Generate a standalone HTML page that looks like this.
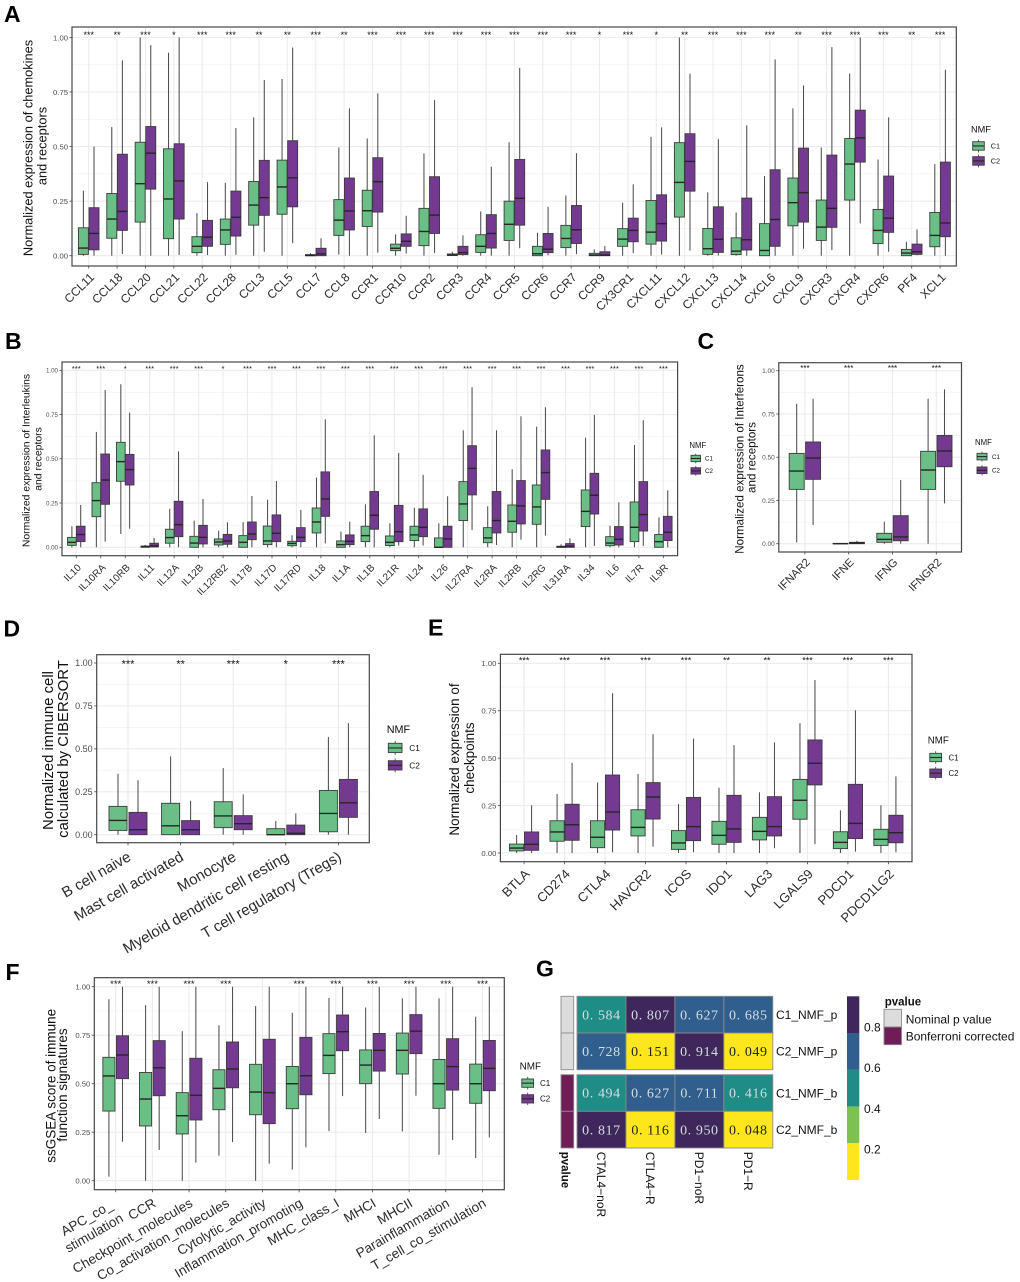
<!DOCTYPE html>
<html lang="en">
<head>
<meta charset="utf-8">
<title>NMF immune signature boxplots</title>
<style>
html,body{margin:0;padding:0;background:#fff;}
svg{display:block;font-family:"Liberation Sans","DejaVu Sans",sans-serif;filter:blur(.3px);}
.letter{font-size:23px;font-weight:bold;fill:#000;}
.ytitle{text-anchor:middle;fill:#111;}
</style>
</head>
<body>
<svg id="figure" xmlns="http://www.w3.org/2000/svg" width="1020" height="1282" viewBox="0 0 1020 1282">
<rect x="0" y="0" width="1020" height="1282" fill="#fff"/>
<text class="letter" x="4" y="22">A</text>
<text class="letter" x="5" y="349">B</text>
<text class="letter" x="697.5" y="349">C</text>
<text class="letter" x="3.5" y="636.5">D</text>
<text class="letter" x="428" y="635.7">E</text>
<text class="letter" x="5.5" y="980">F</text>
<text class="letter" x="536" y="976.7">G</text>

<g font-size="12.8">
<text class="ytitle" transform="translate(32.4 148) rotate(-90)">Normalized expression of chemokines</text>
<text class="ytitle" transform="translate(46.4 146) rotate(-90)">and receptors</text>
</g>
<g font-size="10.4">
<text class="ytitle" transform="translate(29.7 460.5) rotate(-90)">Normalized expression of Interleukins</text>
<text class="ytitle" transform="translate(41.3 459) rotate(-90)">and receptors</text>
</g>
<g font-size="11.6">
<text class="ytitle" transform="translate(743.7 459) rotate(-90)">Normalized expression of Interferons</text>
<text class="ytitle" transform="translate(755.5 457.5) rotate(-90)">and receptors</text>
</g>
<g font-size="14.9">
<text class="ytitle" transform="translate(52.8 750.5) rotate(-90)">Normalized immune cell</text>
<text class="ytitle" transform="translate(68 749) rotate(-90)">calculated by CIBERSORT</text>
</g>
<g font-size="13.5">
<text class="ytitle" transform="translate(459 759.5) rotate(-90)">Normalized expression of</text>
<text class="ytitle" transform="translate(474 758) rotate(-90)">checkpoints</text>
</g>
<g font-size="13.5">
<text class="ytitle" transform="translate(55.4 1085.8) rotate(-90)">ssGSEA score of immune</text>
<text class="ytitle" transform="translate(67 1085) rotate(-90)">function signatures</text>
</g>
</svg>

<script>
// ---------- series names ----------
const seriesNames = ['C1', 'C2'];
const yTickValues = [0, 0.25, 0.5, 0.75, 1];
const yTickLabels = ['0.00', '0.25', '0.50', '0.75', '1.00'];
const yMinorValues = [0.125, 0.375, 0.625, 0.875];

// ---------- Panel A (each row: low whisker, Q1, median, Q3, high whisker) ----------
const panelACategories = ['CCL11','CCL18','CCL20','CCL21','CCL22','CCL28','CCL3','CCL5','CCL7','CCL8','CCR1','CCR10','CCR2','CCR3','CCR4','CCR5','CCR6','CCR7','CCR9','CX3CR1','CXCL11','CXCL12','CXCL13','CXCL14','CXCL6','CXCL9','CXCR3','CXCR4','CXCR6','PF4','XCL1'];
const panelASignif = ['***','**','***','*','***','***','**','**','***','**','***','***','***','***','***','***','***','***','*','***','*','**','***','***','***','**','***','***','***','**','***'];
const panelAC1 = [
[0,.006,.035,.128,.298],[0,.08,.168,.285,.59],[0,.154,.33,.52,1],[0,.078,.26,.49,.93],[0,.014,.043,.087,.195],
[0,.052,.118,.168,.334],[0,.14,.232,.34,.634],[0,.19,.315,.438,.81],[0,0,.001,.005,.012],[.005,.093,.163,.257,.496],
[0,.134,.206,.30,.537],[0,.023,.034,.053,.098],[0,.046,.111,.217,.469],[0,.001,.003,.008,.018],[0,.015,.043,.096,.203],
[0,.07,.144,.25,.52],[0,0,.009,.043,.105],[0,.037,.079,.139,.276],[0,0,.003,.011,.029],[0,.043,.076,.124,.243],
[0,.053,.108,.253,.545],[0,.177,.336,.518,1],[0,.006,.032,.125,.29],[0,.005,.021,.082,.198],[0,0,.024,.147,.365],
[0,.137,.243,.356,.675],[0,.07,.131,.255,.496],[0,.255,.42,.537,.835],[0,.056,.116,.212,.441],[0,0,.012,.029,.064],[0,.041,.093,.198,.42]];
const panelAC2 = [
[0,.027,.102,.22,.50],[.008,.116,.203,.465,.895],[0,.305,.47,.592,.965],[.003,.168,.343,.513,1],[.003,.043,.085,.162,.337],
[.004,.09,.176,.296,.585],[.018,.185,.266,.437,.805],[.057,.224,.357,.527,.954],[0,0,.008,.034,.08],[0,.118,.205,.356,.675],
[.014,.2,.339,.449,.744],[.01,.043,.066,.10,.183],[.012,.102,.186,.362,.713],[0,.005,.014,.043,.093],[0,.035,.102,.188,.408],
[.034,.14,.263,.441,.861],[.002,.014,.03,.102,.224],[.007,.056,.119,.23,.47],[0,0,.003,.018,.044],[.012,.064,.116,.172,.327],
[.005,.067,.147,.279,.588],[.023,.296,.432,.559,.834],[.001,.015,.075,.224,.534],[0,.026,.073,.264,.597],[0,.043,.166,.394,.90],
[.032,.154,.289,.493,.78],[.026,.13,.217,.461,.956],[.148,.429,.54,.667,1],[.018,.107,.172,.365,.634],[.002,.006,.018,.053,.12],[0,.087,.15,.429,.852]];

// ---------- Panel B ----------
const panelBCategories = ['IL10','IL10RA','IL10RB','IL11','IL12A','IL12B','IL12RB2','IL17B','IL17D','IL17RD','IL18','IL1A','IL1B','IL21R','IL24','IL26','IL27RA','IL2RA','IL2RB','IL2RG','IL31RA','IL34','IL6','IL7R','IL9R'];
const panelBSignif = ['***','***','*','***','***','***','*','***','***','***','***','***','***','***','***','***','***','***','***','***','***','***','***','***','***'];
const panelBC1 = [
[0,.011,.028,.056,.119],[0,.173,.264,.365,.652],[.075,.373,.484,.593,.921],[0,0,.004,.007,.013],[0,.023,.055,.102,.217],
[0,0,.024,.062,.151],[0,.013,.03,.047,.094],[0,0,.028,.066,.143],[0,.015,.036,.12,.269],[0,.009,.022,.034,.068],
[0,.081,.143,.222,.394],[0,0,.015,.036,.089],[0,.032,.066,.119,.243],[0,.01,.028,.064,.136],[0,.038,.07,.119,.224],
[0,0,0,.053,.136],[0,.151,.245,.371,.661],[0,.026,.053,.111,.232],[0,.085,.147,.239,.441],[0,.13,.228,.352,.682],
[0,0,.002,.006,.017],[0,.117,.203,.324,.62],[0,.009,.024,.06,.122],[0,.032,.113,.256,.578],[0,0,.032,.072,.169]];
const panelBC2 = [
[0,.032,.072,.119,.239],[.032,.243,.38,.527,.889],[.105,.352,.439,.525,.761],[0,.002,.008,.023,.053],[0,.06,.128,.26,.542],
[0,.019,.056,.124,.273],[0,.017,.036,.073,.141],[0,.043,.075,.143,.29],[0,.032,.079,.183,.375],[0,.032,.056,.111,.211],
[.022,.175,.273,.426,.723],[0,.015,.034,.07,.145],[0,.102,.181,.315,.633],[.01,.032,.088,.237,.533],[.01,.06,.113,.217,.409],
[0,0,.047,.119,.288],[.098,.296,.446,.574,.904],[.013,.081,.151,.315,.661],[.043,.132,.234,.377,.74],[.066,.271,.422,.55,.791],
[0,0,.006,.021,.051],[.008,.188,.294,.418,.748],[0,.013,.045,.117,.254],[.008,.092,.185,.371,.718],[0,.038,.085,.175,.322]];

// ---------- Panel C ----------
const panelCCategories = ['IFNAR2','IFNE','IFNG','IFNGR2'];
const panelCSignif = ['***','***','***','***'];
const panelCC1 = [[.008,.314,.42,.522,.809],[0,0,0,.002,.003],[0,.008,.025,.06,.127],[0,.314,.426,.534,.838]];
const panelCC2 = [[.108,.372,.495,.588,.838],[0,0,.004,.008,.017],[0,.017,.039,.162,.368],[.233,.445,.536,.626,.892]];

// ---------- Panel D ----------
const panelDCategories = ['B cell naive','Mast cell activated','Monocyte','Myeloid dendritic cell resting','T cell regulatory (Tregs)'];
const panelDSignif = ['***','**','***','*','***'];
const panelDC1 = [[0,.025,.083,.165,.355],[0,0,.052,.183,.456],[0,.041,.109,.192,.388],[0,0,0,.035,.08],[0,.017,.124,.258,.569]];
const panelDC2 = [[0,0,.029,.13,.317],[0,0,.029,.082,.198],[0,.029,.064,.111,.235],[0,0,.008,.056,.124],[0,.101,.186,.322,.65]];

// ---------- Panel E ----------
const panelECategories = ['BTLA','CD274','CTLA4','HAVCR2','ICOS','IDO1','LAG3','LGALS9','PDCD1','PDCD1LG2'];
const panelESignif = ['***','***','***','***','***','**','**','***','***','***'];
const panelEC1 = [[0,.011,.026,.047,.095],[0,.062,.111,.17,.311],[0,.028,.083,.17,.371],[0,.09,.135,.228,.417],[0,.019,.053,.118,.258],[0,.046,.093,.167,.344],[0,.069,.114,.188,.32],[0,.178,.278,.388,.684],[0,.023,.056,.112,.225],[0,.04,.072,.125,.251]];
const panelEC2 = [[0,.014,.046,.111,.251],[0,.067,.149,.257,.475],[.004,.121,.216,.411,.842],[.033,.179,.295,.371,.626],[.004,.065,.139,.293,.603],[0,.056,.127,.304,.569],[.025,.09,.139,.297,.583],[.047,.359,.473,.596,.912],[.007,.076,.156,.362,.752],[.004,.054,.107,.199,.404]];

// ---------- Panel F ----------
const panelFCategories = ['APC_co_\nstimulation','CCR','Checkpoint_molecules','Co_activation_molecules','Cytolytic_activity','Inflammation_promoting','MHC_class_I','MHCI','MHCII','Parainflammation','T_cell_co_stimulation'];
const panelFSignif = ['***','***','***','***','','***','***','***','***','***','***'];
const panelFC1 = [[.021,.359,.54,.636,.935],[0,.282,.421,.558,.905],[0,.241,.335,.454,.771],[.129,.366,.476,.572,.801],[0,.34,.457,.60,.90],[.057,.371,.50,.589,.866],[.256,.552,.646,.758,.942],[.246,.50,.596,.674,.893],[.254,.55,.672,.761,.94],[.134,.373,.50,.625,.94],[.117,.399,.50,.601,.845]];
const panelFC2 = [[.201,.526,.648,.747,1],[.158,.438,.582,.722,1],[.093,.313,.44,.631,1],[.199,.479,.576,.715,1],[.088,.294,.454,.729,1],[.172,.443,.541,.739,1],[.436,.67,.768,.854,1],[.318,.565,.672,.759,1],[.438,.655,.771,.856,1],[.21,.467,.588,.732,1],[.223,.464,.579,.723,1]];

// ---------- Panel G heatmap ----------
const heatmapRowNames = ['C1_NMF_p','C2_NMF_p','C1_NMF_b','C2_NMF_b'];
const heatmapColNames = ['CTAL4\u2212noR','CTLA4\u2212R','PD1\u2212noR','PD1\u2212R'];
const heatmapRow1 = [0.584, 0.807, 0.627, 0.685];
const heatmapRow2 = [0.728, 0.151, 0.914, 0.049];
const heatmapRow3 = [0.494, 0.627, 0.711, 0.416];
const heatmapRow4 = [0.817, 0.116, 0.950, 0.048];
const colorbarTicks = [0.8, 0.6, 0.4, 0.2];
const pvalueLegendLabels = ['Nominal p value', 'Bonferroni corrected'];

// ---------- helpers ----------
const svg = document.getElementById('figure');
const NS = 'http://www.w3.org/2000/svg';
const GREEN = '#69bf86', PURPLE = '#743a92', EDGE = '#3c3c3c', WHISK = '#4e4e4e', MED = '#262626';
function el(tag, attrs, parent) {
  const n = document.createElementNS(NS, tag);
  for (const k in attrs) n.setAttribute(k, attrs[k]);
  (parent || svg).appendChild(n);
  return n;
}
function slug(s) { return s.toLowerCase().replace(/[^a-z0-9]+/g, '-').replace(/^-|-$/g, ''); }

function drawPanel(id, L, cats, signif, c1, c2) {
  const yScale = v => L.y0 + (L.y1 - L.y0) * v;
  const xScale = i => L.x0 + L.dx * i;
  const panel = el('g', {});
  
  

  // plot background
  const bg = el('rect', {x: L.l, y: L.t, width: L.r - L.l, height: L.b - L.t, fill: '#fff'}, panel);
  
  

  // grid
  yMinorValues.forEach(v => {
    const g = el('line', {x1: L.l, x2: L.r, y1: yScale(v), y2: yScale(v), stroke: '#f2f2f2', 'stroke-width': .7}, panel);
    
    
  });
  yTickValues.forEach(v => {
    const g = el('line', {x1: L.l, x2: L.r, y1: yScale(v), y2: yScale(v), stroke: '#ececec', 'stroke-width': 1.1}, panel);
    
    
  });
  cats.forEach((c, i) => {
    const g = el('line', {x1: xScale(i), x2: xScale(i), y1: L.t, y2: L.b, stroke: '#ececec', 'stroke-width': 1.1}, panel);
    
    
  });

  // boxes
  function drawBox(vals, cx, fill, label, parent) {
    const [lo, q1, med, q3, hi] = vals;
    const w = el('line', {x1: cx, x2: cx, y1: yScale(lo), y2: yScale(hi), stroke: WHISK, 'stroke-width': 1.05}, parent);
    
    
    const r = el('rect', {x: cx - L.bw / 2, y: yScale(q3), width: L.bw, height: Math.max(.4, yScale(q1) - yScale(q3)), fill: fill, stroke: EDGE, 'stroke-width': .9}, parent);
    
    
    const m = el('line', {x1: cx - L.bw / 2, x2: cx + L.bw / 2, y1: yScale(med), y2: yScale(med), stroke: MED, 'stroke-width': 1.4}, parent);
    
    
  }
  cats.forEach((c, i) => {
    const g = el('g', {}, panel);
    
    
    drawBox(c1[i], xScale(i) - L.off, GREEN, slug(c) + '-c1', g);
    drawBox(c2[i], xScale(i) + L.off, PURPLE, slug(c) + '-c2', g);
    if (signif[i]) {
      const s = el('text', {x: xScale(i), y: L.starY + .58 * L.starFs, 'text-anchor': 'middle', 'font-size': L.starFs, fill: '#111'}, g);
      s.textContent = signif[i];
      
      
    }
  });

  // frame
  const fr = el('rect', {x: L.l, y: L.t, width: L.r - L.l, height: L.b - L.t, fill: 'none', stroke: '#474747', 'stroke-width': 1.2}, panel);
  
  

  // y axis
  yTickValues.forEach((v, i) => {
    const t = el('line', {x1: L.l - 2.5, x2: L.l, y1: yScale(v), y2: yScale(v), stroke: '#444', 'stroke-width': .8}, panel);
    
    
    const lb = el('text', {x: L.l - 4, y: yScale(v) + L.tickFs * .36, 'text-anchor': 'end', 'font-size': L.tickFs, fill: '#4d4d4d'}, panel);
    lb.textContent = yTickLabels[i];
    
    
  });

  // x axis
  cats.forEach((c, i) => {
    const t = el('line', {x1: xScale(i), x2: xScale(i), y1: L.b, y2: L.b + 2.5, stroke: '#444', 'stroke-width': .8}, panel);
    
    
    const lines = c.split('\n');
    lines.forEach((txt, k) => {
      const multi = lines.length > 1;
      const ox = multi ? L.multi[k][0] : L.ldx;
      const oy = multi ? L.multi[k][1] : L.ldy;
      const lb = el('text', {transform: 'translate(' + (xScale(i) + ox) + ' ' + (L.b + oy) + ') rotate(' + (-L.angle) + ')', 'text-anchor': 'end', 'font-size': L.labelFs, fill: '#2b2b2b'}, panel);
      lb.textContent = txt;
      
      
    });
  });

  // legend
  const lg = L.legend;
  const lgGroup = el('g', {}, panel);
  
  
  const tt = el('text', {x: lg.titleX, y: lg.titleY + lg.titleFs * .36, 'font-size': lg.titleFs, fill: '#111'}, lgGroup);
  tt.textContent = 'NMF';
  
  
  seriesNames.forEach((name, k) => {
    const ky = lg.keys[k];
    const cx = lg.keyX + lg.keyW / 2;
    const wh = el('line', {x1: cx, x2: cx, y1: ky - lg.keyH * .25, y2: ky + lg.keyH * 1.25, stroke: WHISK, 'stroke-width': .9}, lgGroup);
    
    
    const bx = el('rect', {x: lg.keyX, y: ky, width: lg.keyW, height: lg.keyH, fill: k ? PURPLE : GREEN, stroke: EDGE, 'stroke-width': .9}, lgGroup);
    
    
    const md = el('line', {x1: lg.keyX, x2: lg.keyX + lg.keyW, y1: ky + lg.keyH / 2, y2: ky + lg.keyH / 2, stroke: MED, 'stroke-width': 1.1}, lgGroup);
    
    
    const tx = el('text', {x: lg.labelX, y: ky + lg.keyH / 2 + lg.labelFs * .36, 'font-size': lg.labelFs, fill: '#111'}, lgGroup);
    tx.textContent = name;
    
    
  });
}

drawPanel('a', {l:72,r:956.3,t:27,b:266,y0:255.7,y1:37.5,x0:88.7,dx:28.38,bw:10,off:5.3,tickFs:7.7,labelFs:12,angle:45,ldx:6.3,ldy:12,starFs:9,starY:32.7,
  legend:{titleX:971,titleY:129,keyX:972.7,keyW:11.6,keys:[141.7,156.7],keyH:8.5,labelX:990.7,titleFs:9.2,labelFs:7.3}},
  panelACategories, panelASignif, panelAC1, panelAC2);
drawPanel('b', {l:62,r:677.6,t:362,b:555.7,y0:547.3,y1:370.3,x0:76.3,dx:24.46,bw:8.7,off:4.4,tickFs:6.2,labelFs:10,angle:45,ldx:5.4,ldy:12.5,starFs:7.7,starY:366.7,
  legend:{titleX:689.4,titleY:445,keyX:691,keyW:9.5,keys:[455.3,467.7],keyH:6.4,labelX:705,titleFs:7.8,labelFs:6.2}},
  panelBCategories, panelBSignif, panelBC1, panelBC2);
drawPanel('c', {l:778.8,r:961.5,t:362.7,b:552,y0:543.7,y1:370.7,x0:804.9,dx:43.8,bw:15,off:8.2,tickFs:6.5,labelFs:11.2,angle:45,ldx:5.8,ldy:11,starFs:8,starY:366.3,
  legend:{titleX:975,titleY:442,keyX:977,keyW:10,keys:[453.3,467],keyH:6.6,labelX:992,titleFs:7.8,labelFs:6.2}},
  panelCCategories, panelCSignif, panelCC1, panelCC2);
drawPanel('d', {l:96.7,r:369.3,t:654.7,b:842.7,y0:834.7,y1:663,x0:128,dx:52.6,bw:18,off:10,tickFs:9,labelFs:15,angle:30,ldx:4,ldy:17,starFs:11,starY:661,
  legend:{titleX:386.7,titleY:729,keyX:388.3,keyW:13.7,keys:[743.3,760.7],keyH:9.3,labelX:409.3,titleFs:10.8,labelFs:8.3}},
  panelDCategories, panelDSignif, panelDC1, panelDC2);
drawPanel('e', {l:500.4,r:912,t:654.3,b:861.7,y0:853,y1:663.3,x0:524.1,dx:40.48,bw:14.2,off:7.5,tickFs:7.7,labelFs:13,angle:45,ldx:6.3,ldy:13,starFs:9,starY:658.3,
  legend:{titleX:927.8,titleY:740,keyX:929.8,keyW:11.8,keys:[753.3,769],keyH:8.4,labelX:948.5,titleFs:9.7,labelFs:7.8}},
  panelECategories, panelESignif, panelEC1, panelEC2);
drawPanel('f', {l:94.3,r:504.3,t:977.7,b:1189.7,y0:1180.7,y1:986.7,x0:115.7,dx:36.68,bw:12.1,off:6.8,tickFs:7.7,labelFs:13.5,angle:30,ldx:4.5,ldy:16,starFs:9.5,starY:981.3,multi:[[-2,18],[8.5,31]],
  legend:{titleX:519.6,titleY:1065.7,keyX:521.8,keyW:11.8,keys:[1079,1094.7],keyH:8.3,labelX:540,titleFs:9.9,labelFs:8}},
  panelFCategories, panelFSignif, panelFC1, panelFC2);

// ---------- heatmap ----------
(function () {
  const heatmap = el('g', {});
  
  
  const binColors = ['#fde71c', '#7cc253', '#1f8c85', '#305f8d', '#40275b'];
  const colorFor = v => binColors[Math.min(4, Math.floor(v / 0.2))];
  const colX = j => 577 + 48.95 * j;
  const colW = 48.95;
  const rowY = [996.3, 1033, 1074.7, 1111.3];
  const rowH = 36.7;
  const rows = [heatmapRow1, heatmapRow2, heatmapRow3, heatmapRow4];
  const annotation = ['#dcdcdc', '#dcdcdc', '#701c57', '#701c57'];

  rows.forEach((row, i) => {
    const a = el('rect', {x: 561, y: rowY[i], width: 12.7, height: rowH, fill: annotation[i], stroke: '#8c8c8c', 'stroke-width': .9}, heatmap);
    
    
    row.forEach((v, j) => {
      const c = el('rect', {x: colX(j), y: rowY[i], width: colW, height: rowH, fill: colorFor(v), stroke: '#8c8c8c', 'stroke-width': .9}, heatmap);
      
      
      const txt = v.toFixed(3).replace('.', '. ');
      const t = el('text', {x: colX(j) + colW / 2, y: rowY[i] + rowH / 2 + 4.6, 'text-anchor': 'middle', 'font-size': 14, 'letter-spacing': '.6', 'font-family': '"Liberation Serif","Noto Serif CJK SC",serif', fill: v < 0.2 ? '#222' : '#d5dde2'}, heatmap);
      t.textContent = txt;
      
      
    });
    const lb = el('text', {x: 776, y: rowY[i] + rowH / 2 + 4.3, 'font-size': 12, fill: '#111'}, heatmap);
    lb.textContent = heatmapRowNames[i];
    
    
  });

  heatmapColNames.forEach((name, j) => {
    const lb = el('text', {transform: 'translate(' + (colX(j) + colW / 2 - 4.4) + ' 1151.7) rotate(90)', 'font-size': 12, fill: '#111'}, heatmap);
    lb.textContent = name;
    
    
  });
  const pv = el('text', {transform: 'translate(561.6 1151.7) rotate(90)', 'font-size': 11.5, 'font-weight': 'bold', fill: '#111'}, heatmap);
  pv.textContent = 'pvalue';
  
  

  // colour bar (drawn from top, highest bin first)
  const barTop = 996.3, segH = 36.68;
  binColors.slice().reverse().forEach((col, k) => {
    const s = el('rect', {x: 847, y: barTop + k * segH, width: 12.3, height: segH + .2, fill: col}, heatmap);
    
    
  });
  colorbarTicks.forEach((v, k) => {
    const t = el('text', {x: 864, y: 1027.3 + k * 40.6 + 4.3, 'font-size': 12, fill: '#111'}, heatmap);
    t.textContent = v.toFixed(1);
    
    
  });

  // pvalue legend
  const title = el('text', {x: 884.7, y: 1005.5, 'font-size': 11.5, 'font-weight': 'bold', fill: '#111'}, heatmap);
  title.textContent = 'pvalue';
  
  
  pvalueLegendLabels.forEach((name, k) => {
    const key = el('rect', {x: 884, y: 1009.3 + k * 17.7, width: 17.5, height: 17.7, fill: k ? '#701c57' : '#dcdcdc', stroke: '#8c8c8c', 'stroke-width': .9}, heatmap);
    
    
    const t = el('text', {x: 905.7, y: 1019 + k * 17.4 + 4.3, 'font-size': 12, fill: '#111'}, heatmap);
    t.textContent = name;
    
    
  });
})();
</script>
</body>
</html>
